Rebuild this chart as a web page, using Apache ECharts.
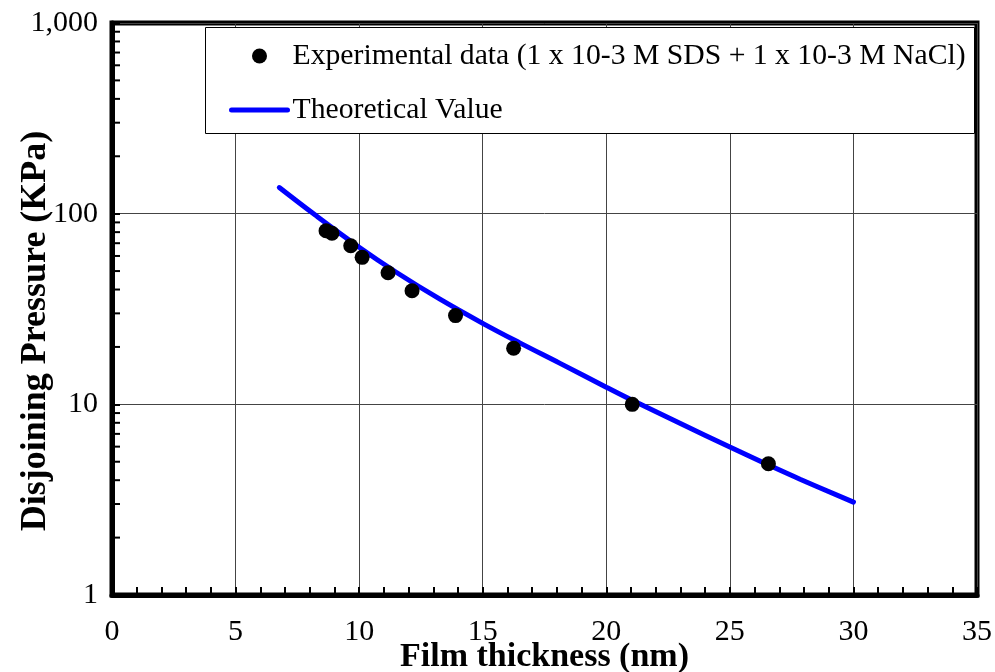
<!DOCTYPE html>
<html>
<head>
<meta charset="utf-8">
<script src="https://cdn.jsdelivr.net/npm/echarts@6/dist/echarts.min.js"></script>
<style>html,body{margin:0;padding:0;background:#fff;}#c{width:995px;height:672px;}</style>
</head>
<body>
<div id="c"></div>
<script>
// Experimental data
const expThickness = [8.66, 8.9, 9.66, 10.12, 11.17, 12.14, 13.9, 16.25, 21.05, 26.56];
const expPressure  = [81.4, 78.9, 67.9, 59.0, 49.0, 39.4, 29.2, 19.7, 10.0, 4.88];
// Theoretical curve
const theoThickness = [6.77, 8.21, 10.0, 11.5, 13.27, 15.0, 16.5, 18.13, 20.0, 21.05, 22.98, 25.0, 26.56, 27.84, 30.0];
const theoPressure  = [137.1, 98.6, 66.7, 49.3, 35.6, 26.6, 21.0, 16.4, 12.3, 10.5, 7.96, 5.97, 4.81, 4.05, 3.07];
// Axis ticks
const xTicks = [0, 5, 10, 15, 20, 25, 30, 35];
const yTicks = [1, 10, 100, 1000];
const yTickLabels = ['1', '10', '100', '1,000'];
const yMinorTicks = [2,3,4,5,6,7,8,9,20,30,40,50,60,70,80,90,200,300,400,500,600,700,800,900];

const seriesNames = ['Experimental data (1 x 10-3 M SDS + 1 x 10-3 M NaCl)', 'Theoretical Value'];
const FONT = "'Liberation Serif', 'Times New Roman', serif";

const chart = echarts.init(document.getElementById('c'), null, {renderer: 'canvas'});
const option = {
  animation: false,
  backgroundColor: '#fff',
  grid: {left: 112, right: 18, top: 23, bottom: 77, containLabel: false, outerBoundsMode: 'none',
         show: true, borderColor: '#000', borderWidth: 5, backgroundColor: 'transparent'},
  xAxis: {
    type: 'value', min: xTicks[0], max: xTicks[xTicks.length - 1], interval: 5,
    name: 'Film thickness (nm)', nameLocation: 'middle', nameGap: 45, nameMoveOverlap: false,
    nameTextStyle: {fontFamily: FONT, fontWeight: 'bold', fontSize: 34, color: '#000'},
    axisLine: {show: true, lineStyle: {color: '#000', width: 5}},
    axisTick: {show: true, inside: true, length: 8, lineStyle: {color: '#000', width: 2}},
    minorTick: {show: true, splitNumber: 5, length: 8, lineStyle: {color: '#000', width: 2}},
    axisLabel: {fontFamily: FONT, fontSize: 30, color: '#000', margin: 22},
    splitLine: {show: true, lineStyle: {color: '#444', width: 1}}
  },
  yAxis: {
    type: 'log', logBase: 10, min: yTicks[0], max: yTicks[yTicks.length - 1],
    name: 'Disjoining Pressure (KPa)', nameLocation: 'middle', nameGap: 58, nameRotate: 90, nameMoveOverlap: false,
    nameTextStyle: {fontFamily: FONT, fontWeight: 'bold', fontSize: 36, color: '#000', padding: [0, 44, 0, 0]},
    axisLine: {show: true, lineStyle: {color: '#000', width: 5}},
    axisTick: {show: true, inside: true, length: 8, lineStyle: {color: '#000', width: 2}},
    minorTick: {show: false},
    axisLabel: {fontFamily: FONT, fontSize: 30, color: '#000', margin: 14,
      formatter: v => { const i = yTicks.indexOf(Math.round(v)); return i >= 0 ? yTickLabels[i] : ''; }},
    splitLine: {show: true, lineStyle: {color: '#444', width: 1}}
  },
  legend: {
    data: [
      {name: seriesNames[0], icon: 'circle'},
      {name: seriesNames[1], itemStyle: {opacity: 0}, lineStyle: {width: 5, color: '#0000ff', cap: 'round'}}
    ],
    orient: 'vertical', left: 229, top: 39, padding: 0, itemWidth: 56, itemHeight: 15, itemGap: 20,
    textStyle: {fontFamily: FONT, fontSize: 29.7, color: '#000', lineHeight: 34},
    selectedMode: false, z: 6
  },
  graphic: [{
    type: 'rect', z: 5, silent: true,
    shape: {x: 205.5, y: 27.5, width: 769, height: 106},
    style: {fill: '#fff', stroke: '#000', lineWidth: 1}
  }],
  series: [
    {
      name: seriesNames[1], type: 'line', smooth: 0.4, symbol: 'none', z: 3,
      data: theoThickness.map((x, i) => [x, theoPressure[i]]),
      lineStyle: {color: '#0000ff', width: 5, cap: 'round'},
      itemStyle: {color: '#0000ff'}
    },
    {
      name: seriesNames[0], type: 'scatter', symbol: 'circle', symbolSize: 15, z: 4,
      data: expThickness.map((x, i) => [x, expPressure[i]]),
      itemStyle: {color: '#000', opacity: 1}
    },
    {
      type: 'custom', silent: true, clip: false, z: 2,
      data: yMinorTicks.map(v => [0, v]),
      renderItem: (params, api) => {
        const p = api.coord([0, api.value(1)]);
        return {type: 'line', shape: {x1: p[0], y1: p[1], x2: p[0] + 8, y2: p[1]}, style: {stroke: '#000', lineWidth: 2}};
      }
    }
  ]
};
chart.setOption(option);
</script>
</body>
</html>
